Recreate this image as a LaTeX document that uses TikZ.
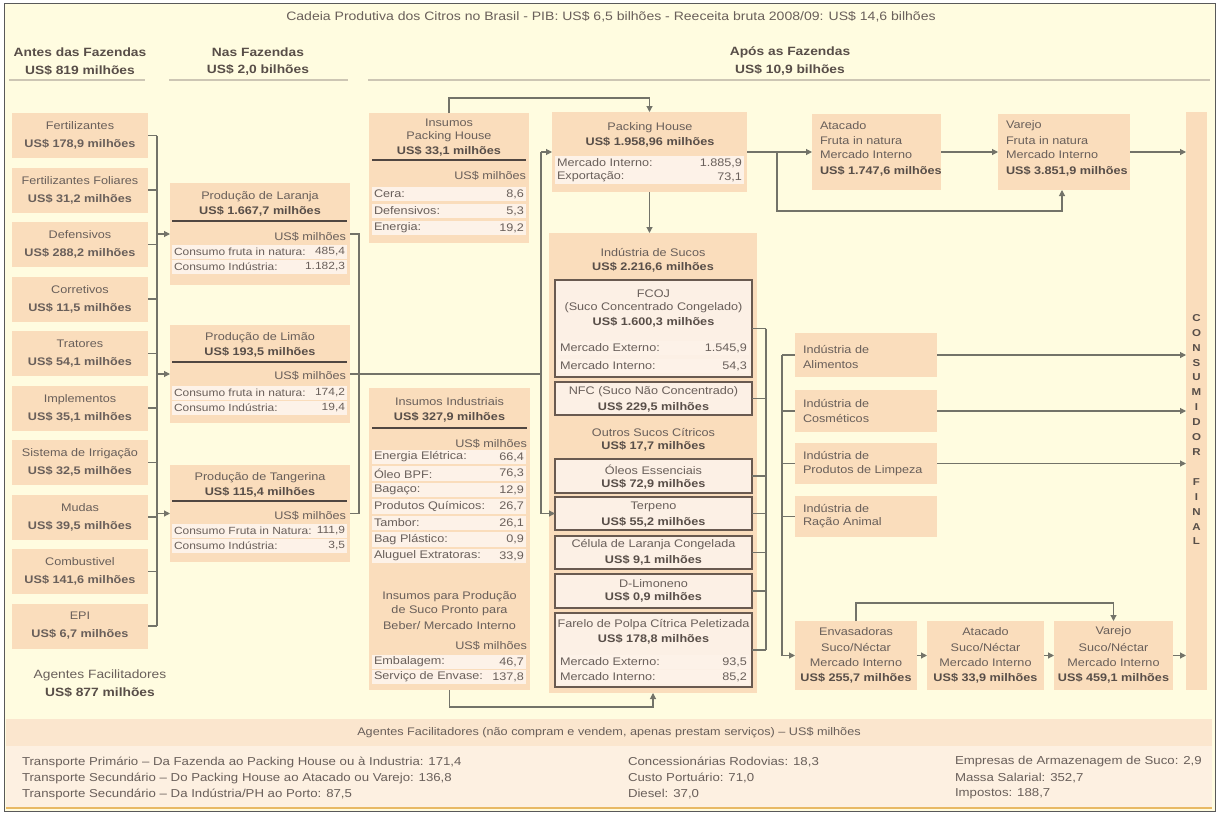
\documentclass[tikz,border=0pt]{standalone}
\usepackage{fontspec}
\setmainfont{Liberation Sans}[FakeStretch=1.15]
\usetikzlibrary{arrows.meta}
\definecolor{bgc}{RGB}{255,252,224}
\definecolor{peach}{RGB}{250,221,188}
\definecolor{rowc}{RGB}{253,242,232}
\definecolor{inbox}{RGB}{252,240,229}
\definecolor{inbord}{RGB}{105,90,80}
\definecolor{txc}{RGB}{105,95,90}
\definecolor{txb}{RGB}{88,78,72}
\definecolor{lnc}{RGB}{115,115,105}
\definecolor{sepc}{RGB}{80,70,65}
\definecolor{hdl}{RGB}{205,198,180}
\definecolor{botc}{RGB}{251,230,206}
\definecolor{botl}{RGB}{253,240,225}
\definecolor{orl}{RGB}{232,185,100}
\newcommand\myfs{\fontsize{11}{13}\selectfont}
\newcommand\myfb{\fontsize{11}{13}\selectfont\bfseries}
\newcommand\myhd{\fontsize{12}{14}\selectfont\bfseries}
\newcommand\prow[7][]{%
  \fill[rowc] (#3,#5-7.2) rectangle (#4,#5+7.2);
  \node[txl,#1] (#2l) at (#3+2,#5) {#6};
  \node[txr,#1] (#2v) at (#4-2,#5) {#7};}
\begin{document}
\begin{tikzpicture}[x=1pt,y=-1pt,
  every node/.style={inner sep=0pt,outer sep=0pt},
  pbox/.style={fill=peach,draw=none,rectangle,anchor=north west},
  ibox/.style={fill=inbox,draw=inbord,line width=1.3pt,rectangle,anchor=north west},
  txt/.style={text=txc,font=\myfs},
  txtb/.style={text=txb,font=\myfb},
  txl/.style={txt,anchor=west},
  txlb/.style={txtb,anchor=west},
  txr/.style={txt,anchor=east},
  sm/.style={font=\fontsize{10.4}{13}\selectfont},
  btx/.style={txl,font=\fontsize{11.5}{13}\selectfont},
  hd/.style={text=txb,font=\myhd},
  lbox/.style={pbox,minimum width=136pt,minimum height=45pt,align=center,text=txc,font=\fontsize{11}{18}\selectfont},
  lnk/.style={draw=lnc,line width=1.1pt},
  arw/.style={lnk,-{Triangle[length=6pt,width=6pt]}},
  sepl/.style={draw=sepc,line width=1.2pt},
  hline/.style={draw=hdl,line width=1.6pt},
]
\fill[white] (0,0) rectangle (1219,814);
\useasboundingbox (0,0) rectangle (1219,814);
\fill[bgc] (4,3) rectangle (1215,811);

% header
\node[txt,font=\fontsize{12.2}{14}\selectfont] (title) at (611,17) {Cadeia Produtiva dos Citros no Brasil - PIB: US\$ 6,5 bilhões - Reeceita bruta 2008/09: US\$ 14,6 bilhões};
\node[hd] (h1) at (80,52) {Antes das Fazendas};
\node[hd] (h1v) at (80,70) {US\$ 819 milhões};
\node[hd] (h2) at (258,52) {Nas Fazendas};
\node[hd] (h2v) at (258,70) {US\$ 2,0 bilhões};
\node[hd] (h3) at (790,52) {Após as Fazendas};
\node[hd] (h3v) at (790,70) {US\$ 10,9 bilhões};
\draw[hline] (9,80) -- (145,80);
\draw[hline] (169,80) -- (348,80);
\draw[hline] (368,80) -- (1210,80);

% left column
\node[lbox] (fert) at (12,113) {Fertilizantes\\\textbf{US\$ 178,9 milhões}};
\node[lbox] (ffol) at (12,167.5) {Fertilizantes Foliares\\\textbf{US\$ 31,2 milhões}};
\node[lbox] (defe) at (12,222) {Defensivos\\\textbf{US\$ 288,2 milhões}};
\node[lbox] (corr) at (12,276.5) {Corretivos\\\textbf{US\$ 11,5 milhões}};
\node[lbox] (trat) at (12,331) {Tratores\\\textbf{US\$ 54,1 milhões}};
\node[lbox] (impl) at (12,385.5) {Implementos\\\textbf{US\$ 35,1 milhões}};
\node[lbox] (irri) at (12,440) {Sistema de Irrigação\\\textbf{US\$ 32,5 milhões}};
\node[lbox] (muda) at (12,494.5) {Mudas\\\textbf{US\$ 39,5 milhões}};
\node[lbox] (comb) at (12,549) {Combustivel\\\textbf{US\$ 141,6 milhões}};
\node[lbox] (epi) at (12,603.5) {EPI\\\textbf{US\$ 6,7 milhões}};
\node[text=txc,font=\fontsize{12}{14}\selectfont] (agf) at (100,675) {Agentes Facilitadores};
\node[hd] (agfv) at (100,692) {US\$ 877 milhões};

% production boxes
\node[pbox,minimum width=180pt,minimum height=102pt] (lar) at (170,183) {};
\node[txt] (larT) at (260,197) {Produção de Laranja};
\node[txtb] (larV) at (260,211) {US\$ 1.667,7 milhões};
\draw[sepl] (172,221) -- (347,221);
\node[txr] (larU) at (346,237) {US\$ milhões};
\prow[sm]{larA}{172}{347}{252}{Consumo fruta in natura:}{485,4}
\prow[sm]{larB}{172}{347}{267}{Consumo Indústria:}{1.182,3}

\node[pbox,minimum width=180pt,minimum height=98pt] (lim) at (170,325) {};
\node[txt] (limT) at (260,338) {Produção de Limão};
\node[txtb] (limV) at (260,352) {US\$ 193,5 milhões};
\draw[sepl] (172,362) -- (347,362);
\node[txr] (limU) at (346,376) {US\$ milhões};
\prow[sm]{limA}{172}{347}{393}{Consumo fruta in natura:}{174,2}
\prow[sm]{limB}{172}{347}{408}{Consumo Indústria:}{19,4}

\node[pbox,minimum width=180pt,minimum height=97pt] (tan) at (170,465) {};
\node[txt] (tanT) at (260,478) {Produção de Tangerina};
\node[txtb] (tanV) at (260,492) {US\$ 115,4 milhões};
\draw[sepl] (172,501) -- (347,501);
\node[txr] (tanU) at (346,516) {US\$ milhões};
\prow[sm]{tanA}{172}{347}{531}{Consumo Fruta in Natura:}{111,9}
\prow[sm]{tanB}{172}{347}{546}{Consumo Indústria:}{3,5}

% insumos packing house
\node[pbox,minimum width=160pt,minimum height=130pt] (iph) at (369,113) {};
\node[txt] (iphT1) at (449,123) {Insumos};
\node[txt] (iphT2) at (449,137) {Packing House};
\node[txtb] (iphV) at (449,151) {US\$ 33,1 milhões};
\draw[sepl] (372,160) -- (526,160);
\node[txr] (iphU) at (526,176) {US\$ milhões};
\prow{iphA}{372}{526}{194}{Cera:}{8,6}
\prow{iphB}{372}{526}{211}{Defensivos:}{5,3}
\prow{iphC}{372}{526}{228}{Energia:}{19,2}

% insumos industriais
\node[pbox,minimum width=161pt,minimum height=302pt] (iin) at (369,388) {};
\node[txt] (iinT) at (449.5,402) {Insumos Industriais};
\node[txtb] (iinV) at (449.5,417) {US\$ 327,9 milhões};
\draw[sepl] (372,428) -- (527,428);
\node[txr] (iinU) at (527,444) {US\$ milhões};
\prow{iinA}{372}{526}{457}{Energia Elétrica:}{66,4}
\prow{iinB}{372}{526}{473.5}{Óleo BPF:}{76,3}
\prow{iinC}{372}{526}{490}{Bagaço:}{12,9}
\prow{iinD}{372}{526}{506.5}{Produtos Químicos:}{26,7}
\prow{iinE}{372}{526}{523}{Tambor:}{26,1}
\prow{iinF}{372}{526}{539.5}{Bag Plástico:}{0,9}
\prow{iinG}{372}{526}{556}{Aluguel Extratoras:}{33,9}
\node[txt] (ispT1) at (449.5,597) {Insumos para Produção};
\node[txt] (ispT2) at (449.5,611) {de Suco Pronto para};
\node[txt] (ispT3) at (449.5,626) {Beber/ Mercado Interno};
\node[txr] (ispU) at (527,646) {US\$ milhões};
\prow{ispA}{372}{526}{662}{Embalagem:}{46,7}
\prow{ispB}{372}{526}{677}{Serviço de Envase:}{137,8}

% packing house
\node[pbox,minimum width=195pt,minimum height=80pt] (ph) at (552,112) {};
\node[txt] (phT) at (650,128) {Packing House};
\node[txtb] (phV) at (650,142) {US\$ 1.958,96 milhões};
\prow{phA}{555}{744}{163}{Mercado Interno:}{1.885,9}
\prow{phB}{555}{744}{177}{Exportação:}{73,1}

% industria de sucos
\node[pbox,minimum width=208pt,minimum height=460pt] (ind) at (549,233) {};
\node[txt] (indT) at (653,253) {Indústria de Sucos};
\node[txtb] (indV) at (653,267) {US\$ 2.216,6 milhões};
\node[ibox,minimum width=197pt,minimum height=97pt] (fcoj) at (555,280) {};
\node[txt] (fcT1) at (653.5,294) {FCOJ};
\node[txt] (fcT2) at (653.5,308) {(Suco Concentrado Congelado)};
\node[txtb] (fcV) at (653.5,322) {US\$ 1.600,3 milhões};
\prow{fcA}{558}{749}{348}{Mercado Externo:}{1.545,9}
\prow{fcB}{558}{749}{366}{Mercado Interno:}{54,3}
\node[ibox,minimum width=197pt,minimum height=33pt] (nfc) at (555,382) {};
\node[txt] (nfcT) at (653.5,392) {NFC (Suco  Não Concentrado)};
\node[txtb] (nfcV) at (653.5,407) {US\$ 229,5 milhões};
\node[txt] (outT) at (653.5,432) {Outros Sucos Cítricos};
\node[txtb] (outV) at (653.5,446) {US\$ 17,7 milhões};
\node[ibox,minimum width=197pt,minimum height=34pt] (oleo) at (555,459) {};
\node[txt] (oleoT) at (653.5,470) {Óleos Essenciais};
\node[txtb] (oleoV) at (653.5,484) {US\$ 72,9 milhões};
\node[ibox,minimum width=197pt,minimum height=33pt] (terp) at (555,497) {};
\node[txt] (terpT) at (653.5,507) {Terpeno};
\node[txtb] (terpV) at (653.5,522) {US\$ 55,2 milhões};
\node[ibox,minimum width=197pt,minimum height=33pt] (celu) at (555,536) {};
\node[txt] (celuT) at (653.5,545) {Célula de Laranja Congelada};
\node[txtb] (celuV) at (653.5,560) {US\$ 9,1 milhões};
\node[ibox,minimum width=197pt,minimum height=34pt] (dlim) at (555,574) {};
\node[txt] (dlimT) at (653.5,584) {D-Limoneno};
\node[txtb] (dlimV) at (653.5,597) {US\$ 0,9 milhões};
\node[ibox,minimum width=197pt,minimum height=74pt] (fare) at (555,613) {};
\node[txt] (fareT) at (653.5,625) {Farelo de Polpa Cítrica Peletizada};
\node[txtb] (fareV) at (653.5,639) {US\$ 178,8 milhões};
\prow{faA}{558}{749}{662}{Mercado Externo:}{93,5}
\prow{faB}{558}{749}{677}{Mercado Interno:}{85,2}

% after farm, fruit
\node[pbox,minimum width=129pt,minimum height=76pt] (ata) at (812,114) {};
\node[txl] (ataT1) at (820,126) {Atacado};
\node[txl] (ataT2) at (820,141) {Fruta in natura};
\node[txl] (ataT3) at (820,155) {Mercado Interno};
\node[txlb] (ataV) at (820,171) {US\$ 1.747,6 milhões};
\node[pbox,minimum width=132pt,minimum height=76pt] (var) at (998,114) {};
\node[txl] (varT1) at (1006,126) {Varejo};
\node[txl] (varT2) at (1006,141) {Fruta in natura};
\node[txl] (varT3) at (1006,155) {Mercado Interno};
\node[txlb] (varV) at (1006,171) {US\$ 3.851,9 milhões};

% industries
\node[pbox,minimum width=142pt,minimum height=44pt] (ali) at (795,333) {};
\node[txl] (aliT1) at (803,349) {Indústria de};
\node[txl] (aliT2) at (803,365) {Alimentos};
\node[pbox,minimum width=142pt,minimum height=42pt] (cosm) at (795,390) {};
\node[txl] (cosT1) at (803,403) {Indústria de};
\node[txl] (cosT2) at (803,418) {Cosméticos};
\node[pbox,minimum width=142pt,minimum height=41pt] (limp) at (795,443) {};
\node[txl] (limpT1) at (803,455) {Indústria de};
\node[txl] (limpT2) at (803,471) {Produtos de Limpeza};
\node[pbox,minimum width=142pt,minimum height=41pt] (raca) at (795,496) {};
\node[txl] (racT1) at (803,508) {Indústria de};
\node[txl] (racT2) at (803,523) {Ração Animal};

% juice chain
\node[pbox,minimum width=122pt,minimum height=69pt] (env) at (795,621) {};
\node[txt] (envT1) at (856,632) {Envasadoras};
\node[txt] (envT2) at (856,647) {Suco/Néctar};
\node[txt] (envT3) at (856,663) {Mercado Interno};
\node[txtb] (envV) at (856,678) {US\$ 255,7 milhões};
\node[pbox,minimum width=117pt,minimum height=69pt] (ata2) at (927,621) {};
\node[txt] (at2T1) at (985.5,632) {Atacado};
\node[txt] (at2T2) at (985.5,647) {Suco/Néctar};
\node[txt] (at2T3) at (985.5,663) {Mercado Interno};
\node[txtb] (at2V) at (985.5,678) {US\$ 33,9 milhões};
\node[pbox,minimum width=119pt,minimum height=69pt] (var2) at (1054,621) {};
\node[txt] (va2T1) at (1113.5,632) {Varejo};
\node[txt] (va2T2) at (1113.5,647) {Suco/Néctar};
\node[txt] (va2T3) at (1113.5,663) {Mercado Interno};
\node[txtb] (va2V) at (1113.5,678) {US\$ 459,1 milhões};

% consumidor final
\node[pbox,minimum width=21pt,minimum height=578pt] (cons) at (1186,112) {};
\foreach \c/\k in {C/0,O/1,N/2,S/3,U/4,M/5,I/6,D/7,O/8,R/9,F/11,I/12,N/13,A/14,L/15}
  \node[text=txb,font=\fontsize{10}{12}\selectfont\bfseries] (cf\k) at (1196.5,318+14.9*\k) {\c};

% bottom band
\node[fill=botc,minimum width=1206pt,minimum height=27pt,anchor=north west] (bband) at (6,719) {};
\node[txt] (bbt) at (bband.center) {Agentes Facilitadores (não compram e vendem, apenas prestam serviços) – US\$ milhões};
\node[fill=botl,minimum width=1206pt,minimum height=62pt,anchor=north west] (blow) at (6,746) {};
\draw[orl,line width=2pt] (blow.south west) -- (blow.south east);
\node[btx] (b11) at (22,762) {Transporte Primário – Da Fazenda ao Packing House ou à Industria: 171,4};
\node[btx] (b12) at (22,778) {Transporte Secundário – Do Packing House ao Atacado ou Varejo: 136,8};
\node[btx] (b13) at (22,794) {Transporte Secundário – Da Indústria/PH ao Porto: 87,5};
\node[btx] (b21) at (628,762) {Concessionárias Rodovias: 18,3};
\node[btx] (b22) at (628,778) {Custo Portuário: 71,0};
\node[btx] (b23) at (628,794) {Diesel: 37,0};
\node[btx] (b31) at (955,762) {Empresas de Armazenagem de Suco: 2,9};
\node[btx] (b32) at (955,778) {Massa Salarial: 352,7};
\node[btx] (b33) at (955,794) {Impostos: 188,7};

% ---------- connectors ----------
\coordinate (busA) at (157,0);
\coordinate (busE) at (359,0);
\coordinate (busD) at (541,0);
\coordinate (busB) at (766,0);
\coordinate (busC) at (782,0);
\foreach \nm in {fert,ffol,defe,corr,trat,impl,irri,muda,comb,epi}
  \draw[lnk] (\nm.east) -- (\nm.east -| busA);
\draw[lnk] (fert.east -| busA) -- (epi.east -| busA);
\foreach \nm in {lar,lim,tan}
  \draw[arw] (\nm.west -| busA) -- (\nm.west);
\draw[lnk] (lar.east) -- (lar.east -| busE) -- (tan.east -| busE) -- (tan.east);
\draw[lnk] (lim.east) -- (lim.east -| busD);
\draw[lnk] (ph.west -| busD) -- (terp.west -| busD);
\draw[arw] (ph.west -| busD) -- (ph.west);
\draw[arw] (terp.west -| busD) -- (terp.west);
\draw[arw] (iph.north) -- ++(0,-15) -| (ph.north);
\draw[arw] (ph.south) -- (ph.south |- ind.north);
\draw[arw] (iin.south) -- ++(0,17) -| (ind.south);
\coordinate (phj) at (777,152);
\coordinate (vj) at (1062,211);
\draw[lnk] (ph.east) -- (phj);
\draw[arw] (phj) -- (ata.west);
\draw[arw] (phj) |- (vj) -- (vj |- var.south);
\draw[arw] (ata.east) -- (var.west);
\draw[arw] (var.east) -- (var.east -| cons.west);
\foreach \nm in {fcoj,nfc,oleo,terp,celu,dlim,fare}
  \draw[lnk] (\nm.east) -- (\nm.east -| busB);
\draw[lnk] (fcoj.east -| busB) -- (fare.east -| busB);
\foreach \nm in {ali,cosm,limp,raca}
  \draw[lnk] (\nm.west -| busC) -- (\nm.west);
\draw[lnk] (ali.west -| busC) -- (env.west -| busC);
\draw[arw] (env.west -| busC) -- (env.west);
\foreach \nm in {ali,cosm,limp}
  \draw[arw] (\nm.east) -- (\nm.east -| cons.west);
\draw[arw] (env.east) -- (ata2.west);
\draw[arw] (ata2.east) -- (var2.west);
\draw[arw] (var2.east) -- (var2.east -| cons.west);
\draw[arw] (env.north) -- ++(0,-18) -| (var2.north);

\draw[black!65,line width=1pt] (4,3) rectangle (1215,811);
\end{tikzpicture}
\end{document}
